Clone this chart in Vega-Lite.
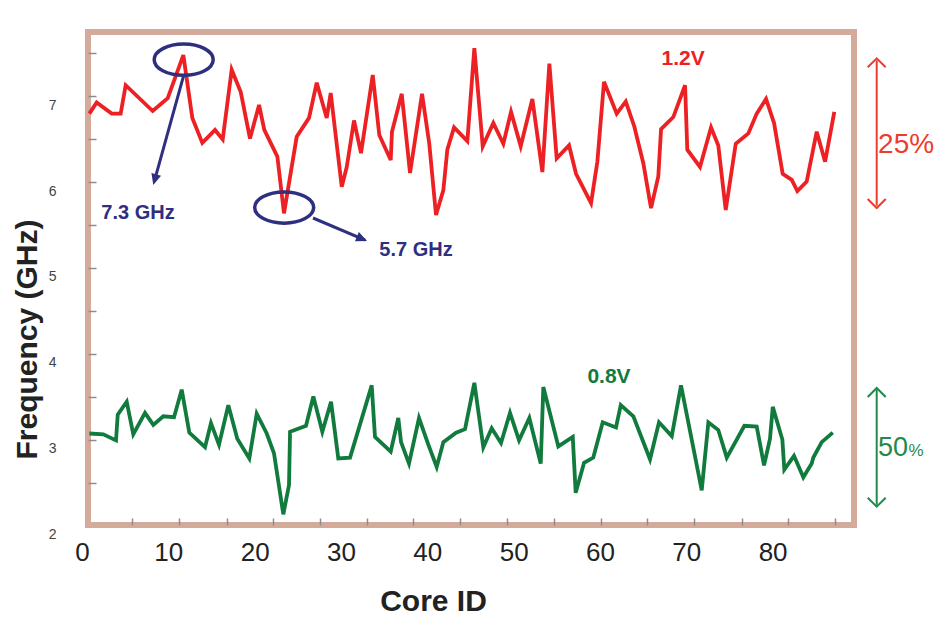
{
  "$schema": "https://vega.github.io/schema/vega-lite/v6.json",
  "autosize": {"type": "none"},
  "padding": {"left": 88, "top": 32, "right": 88, "bottom": 93},
  "width": 766,
  "height": 493,
  "background": "white",
  "config": {"view": {"stroke": "#d4ab9b", "strokeWidth": 6}, "font": "Liberation Sans"},
  "datasets": {
    "freq": [
      {"core": 0.85, "v": "1.2V", "ghz": 6.90}, {"core": 1.70, "v": "1.2V", "ghz": 7.03}, {"core": 3.44, "v": "1.2V", "ghz": 6.90}, {"core": 4.48, "v": "1.2V", "ghz": 6.90}, {"core": 5.06, "v": "1.2V", "ghz": 7.23}, {"core": 8.19, "v": "1.2V", "ghz": 6.93}, {"core": 9.93, "v": "1.2V", "ghz": 7.08}, {"core": 11.74, "v": "1.2V", "ghz": 7.58}, {"core": 12.78, "v": "1.2V", "ghz": 6.85}, {"core": 13.94, "v": "1.2V", "ghz": 6.56}, {"core": 15.41, "v": "1.2V", "ghz": 6.71}, {"core": 16.30, "v": "1.2V", "ghz": 6.60}, {"core": 17.34, "v": "1.2V", "ghz": 7.41}, {"core": 18.39, "v": "1.2V", "ghz": 7.15}, {"core": 19.46, "v": "1.2V", "ghz": 6.61}, {"core": 20.51, "v": "1.2V", "ghz": 7.00}, {"core": 21.12, "v": "1.2V", "ghz": 6.71}, {"core": 22.63, "v": "1.2V", "ghz": 6.40}, {"core": 23.40, "v": "1.2V", "ghz": 5.74}, {"core": 24.87, "v": "1.2V", "ghz": 6.63}, {"core": 26.30, "v": "1.2V", "ghz": 6.85}, {"core": 27.19, "v": "1.2V", "ghz": 7.26}, {"core": 28.35, "v": "1.2V", "ghz": 6.85}, {"core": 28.81, "v": "1.2V", "ghz": 7.14}, {"core": 30.09, "v": "1.2V", "ghz": 6.05}, {"core": 30.67, "v": "1.2V", "ghz": 6.28}, {"core": 31.51, "v": "1.2V", "ghz": 6.82}, {"core": 32.32, "v": "1.2V", "ghz": 6.44}, {"core": 33.68, "v": "1.2V", "ghz": 7.35}, {"core": 34.44, "v": "1.2V", "ghz": 6.65}, {"core": 35.76, "v": "1.2V", "ghz": 6.36}, {"core": 35.91, "v": "1.2V", "ghz": 6.69}, {"core": 37.04, "v": "1.2V", "ghz": 7.13}, {"core": 38.00, "v": "1.2V", "ghz": 6.21}, {"core": 39.39, "v": "1.2V", "ghz": 7.13}, {"core": 40.23, "v": "1.2V", "ghz": 6.55}, {"core": 41.01, "v": "1.2V", "ghz": 5.72}, {"core": 41.86, "v": "1.2V", "ghz": 6.01}, {"core": 42.32, "v": "1.2V", "ghz": 6.48}, {"core": 43.10, "v": "1.2V", "ghz": 6.74}, {"core": 44.64, "v": "1.2V", "ghz": 6.58}, {"core": 45.45, "v": "1.2V", "ghz": 7.66}, {"core": 46.42, "v": "1.2V", "ghz": 6.52}, {"core": 47.65, "v": "1.2V", "ghz": 6.79}, {"core": 48.81, "v": "1.2V", "ghz": 6.55}, {"core": 49.70, "v": "1.2V", "ghz": 6.92}, {"core": 50.82, "v": "1.2V", "ghz": 6.52}, {"core": 52.17, "v": "1.2V", "ghz": 7.07}, {"core": 53.33, "v": "1.2V", "ghz": 6.22}, {"core": 54.14, "v": "1.2V", "ghz": 7.48}, {"core": 54.99, "v": "1.2V", "ghz": 6.38}, {"core": 56.42, "v": "1.2V", "ghz": 6.53}, {"core": 57.23, "v": "1.2V", "ghz": 6.20}, {"core": 58.97, "v": "1.2V", "ghz": 5.86}, {"core": 59.70, "v": "1.2V", "ghz": 6.34}, {"core": 60.47, "v": "1.2V", "ghz": 7.27}, {"core": 61.94, "v": "1.2V", "ghz": 6.90}, {"core": 62.99, "v": "1.2V", "ghz": 7.04}, {"core": 63.98, "v": "1.2V", "ghz": 6.75}, {"core": 65.03, "v": "1.2V", "ghz": 6.32}, {"core": 65.92, "v": "1.2V", "ghz": 5.80}, {"core": 66.76, "v": "1.2V", "ghz": 6.17}, {"core": 67.08, "v": "1.2V", "ghz": 6.72}, {"core": 68.50, "v": "1.2V", "ghz": 6.86}, {"core": 69.86, "v": "1.2V", "ghz": 7.23}, {"core": 70.12, "v": "1.2V", "ghz": 6.48}, {"core": 71.59, "v": "1.2V", "ghz": 6.28}, {"core": 72.87, "v": "1.2V", "ghz": 6.74}, {"core": 73.71, "v": "1.2V", "ghz": 6.53}, {"core": 74.57, "v": "1.2V", "ghz": 5.78}, {"core": 75.73, "v": "1.2V", "ghz": 6.55}, {"core": 77.19, "v": "1.2V", "ghz": 6.67}, {"core": 78.16, "v": "1.2V", "ghz": 6.90}, {"core": 79.24, "v": "1.2V", "ghz": 7.07}, {"core": 80.17, "v": "1.2V", "ghz": 6.79}, {"core": 81.17, "v": "1.2V", "ghz": 6.20}, {"core": 82.22, "v": "1.2V", "ghz": 6.13}, {"core": 82.87, "v": "1.2V", "ghz": 6.00}, {"core": 83.95, "v": "1.2V", "ghz": 6.11}, {"core": 85.11, "v": "1.2V", "ghz": 6.69}, {"core": 86.08, "v": "1.2V", "ghz": 6.34}, {"core": 87.15, "v": "1.2V", "ghz": 6.92},
      {"core": 0.85, "v": "0.8V", "ghz": 3.18}, {"core": 2.47, "v": "0.8V", "ghz": 3.17}, {"core": 3.94, "v": "0.8V", "ghz": 3.10}, {"core": 4.14, "v": "0.8V", "ghz": 3.40}, {"core": 5.18, "v": "0.8V", "ghz": 3.55}, {"core": 5.94, "v": "0.8V", "ghz": 3.17}, {"core": 7.30, "v": "0.8V", "ghz": 3.42}, {"core": 8.26, "v": "0.8V", "ghz": 3.28}, {"core": 9.42, "v": "0.8V", "ghz": 3.38}, {"core": 10.66, "v": "0.8V", "ghz": 3.37}, {"core": 11.55, "v": "0.8V", "ghz": 3.69}, {"core": 12.43, "v": "0.8V", "ghz": 3.19}, {"core": 14.25, "v": "0.8V", "ghz": 3.02}, {"core": 14.94, "v": "0.8V", "ghz": 3.30}, {"core": 15.87, "v": "0.8V", "ghz": 3.05}, {"core": 16.95, "v": "0.8V", "ghz": 3.51}, {"core": 17.99, "v": "0.8V", "ghz": 3.12}, {"core": 19.38, "v": "0.8V", "ghz": 2.89}, {"core": 20.24, "v": "0.8V", "ghz": 3.41}, {"core": 21.40, "v": "0.8V", "ghz": 3.18}, {"core": 22.24, "v": "0.8V", "ghz": 2.95}, {"core": 23.32, "v": "0.8V", "ghz": 2.24}, {"core": 23.98, "v": "0.8V", "ghz": 2.58}, {"core": 24.10, "v": "0.8V", "ghz": 3.20}, {"core": 25.95, "v": "0.8V", "ghz": 3.27}, {"core": 26.80, "v": "0.8V", "ghz": 3.61}, {"core": 27.84, "v": "0.8V", "ghz": 3.20}, {"core": 28.85, "v": "0.8V", "ghz": 3.55}, {"core": 29.69, "v": "0.8V", "ghz": 2.89}, {"core": 31.05, "v": "0.8V", "ghz": 2.90}, {"core": 33.56, "v": "0.8V", "ghz": 3.74}, {"core": 33.94, "v": "0.8V", "ghz": 3.14}, {"core": 35.76, "v": "0.8V", "ghz": 2.97}, {"core": 36.64, "v": "0.8V", "ghz": 3.36}, {"core": 36.96, "v": "0.8V", "ghz": 3.08}, {"core": 37.88, "v": "0.8V", "ghz": 2.83}, {"core": 39.04, "v": "0.8V", "ghz": 3.36}, {"core": 40.12, "v": "0.8V", "ghz": 3.05}, {"core": 41.09, "v": "0.8V", "ghz": 2.79}, {"core": 41.86, "v": "0.8V", "ghz": 3.08}, {"core": 43.33, "v": "0.8V", "ghz": 3.19}, {"core": 44.37, "v": "0.8V", "ghz": 3.23}, {"core": 45.45, "v": "0.8V", "ghz": 3.77}, {"core": 46.49, "v": "0.8V", "ghz": 3.02}, {"core": 47.46, "v": "0.8V", "ghz": 3.24}, {"core": 48.54, "v": "0.8V", "ghz": 3.07}, {"core": 49.58, "v": "0.8V", "ghz": 3.42}, {"core": 50.63, "v": "0.8V", "ghz": 3.10}, {"core": 51.82, "v": "0.8V", "ghz": 3.36}, {"core": 53.14, "v": "0.8V", "ghz": 2.83}, {"core": 53.44, "v": "0.8V", "ghz": 3.72}, {"core": 55.18, "v": "0.8V", "ghz": 3.03}, {"core": 56.85, "v": "0.8V", "ghz": 3.14}, {"core": 57.19, "v": "0.8V", "ghz": 2.49}, {"core": 58.16, "v": "0.8V", "ghz": 2.84}, {"core": 59.23, "v": "0.8V", "ghz": 2.90}, {"core": 60.32, "v": "0.8V", "ghz": 3.31}, {"core": 61.86, "v": "0.8V", "ghz": 3.25}, {"core": 62.41, "v": "0.8V", "ghz": 3.51}, {"core": 63.87, "v": "0.8V", "ghz": 3.38}, {"core": 65.80, "v": "0.8V", "ghz": 2.88}, {"core": 66.84, "v": "0.8V", "ghz": 3.31}, {"core": 68.32, "v": "0.8V", "ghz": 3.15}, {"core": 69.39, "v": "0.8V", "ghz": 3.74}, {"core": 71.79, "v": "0.8V", "ghz": 2.52}, {"core": 72.56, "v": "0.8V", "ghz": 3.31}, {"core": 73.71, "v": "0.8V", "ghz": 3.22}, {"core": 74.69, "v": "0.8V", "ghz": 2.90}, {"core": 76.73, "v": "0.8V", "ghz": 3.27}, {"core": 78.16, "v": "0.8V", "ghz": 3.26}, {"core": 79.01, "v": "0.8V", "ghz": 2.81}, {"core": 79.70, "v": "0.8V", "ghz": 3.12}, {"core": 80.02, "v": "0.8V", "ghz": 3.49}, {"core": 81.13, "v": "0.8V", "ghz": 3.11}, {"core": 81.36, "v": "0.8V", "ghz": 2.76}, {"core": 82.48, "v": "0.8V", "ghz": 2.92}, {"core": 83.56, "v": "0.8V", "ghz": 2.67}, {"core": 84.53, "v": "0.8V", "ghz": 2.83}, {"core": 84.72, "v": "0.8V", "ghz": 2.90}, {"core": 85.69, "v": "0.8V", "ghz": 3.08}, {"core": 86.97, "v": "0.8V", "ghz": 3.19}
    ]
  },
  "resolve": {"axis": {"x": "independent", "y": "independent"}},
  "layer": [
    {
      "data": {"name": "freq"},
      "transform": [{"filter": "datum.v == '1.2V'"}],
      "mark": {"type": "line", "color": "#ed2024", "strokeWidth": 3.8, "strokeJoin": "miter"},
      "encoding": {
        "x": {"field": "core", "type": "quantitative", "scale": {"domain": [0.695, 89.43], "nice": false, "zero": false},
          "axis": {"orient": "bottom", "values": [0.7, 10, 20, 30, 40, 50, 60, 70, 80], "labelExpr": "datum.value < 1 ? '0' : '' + datum.value",
            "labelOffset": {"condition": {"test": "datum.value < 1", "value": -6}, "value": 0}, "labelFlush": false,
            "ticks": false, "domain": false, "grid": false, "labelFontSize": 26, "labelColor": "#222", "labelPadding": 14,
            "title": "Core ID", "titleFontSize": 30, "titleFontWeight": "bold", "titleColor": "#222", "titleX": 345, "titleY": 85, "titleAlign": "center", "titleBaseline": "alphabetic"}},
        "y": {"field": "ghz", "type": "quantitative", "scale": {"domain": [2.116, 7.849], "nice": false, "zero": false},
          "axis": {"orient": "left", "values": [2.12, 3, 4, 5, 6, 7], "labelExpr": "'' + round(datum.value)",
            "labelOffset": {"condition": {"test": "datum.value < 2.5", "value": 10}, "value": 0}, "labelFlush": false,
            "ticks": false, "domain": false, "grid": false, "labelFontSize": 14, "labelColor": "#444", "labelPadding": 32,
            "title": "Frequency (GHz)", "titleFontSize": 30, "titleFontWeight": "bold", "titleColor": "#222", "titleAngle": -90, "titleX": -52, "titleY": 307, "titleAlign": "center", "titleBaseline": "alphabetic"}}
      }
    },
    {
      "data": {"name": "freq"},
      "transform": [{"filter": "datum.v == '0.8V'"}],
      "mark": {"type": "line", "color": "#117a3d", "strokeWidth": 3.8, "strokeJoin": "miter"},
      "encoding": {
        "x": {"field": "core", "type": "quantitative", "scale": {"domain": [0.695, 89.43], "nice": false, "zero": false},
          "axis": {"orient": "bottom", "values": [5.84, 11.27, 16.8, 22.15, 27.6, 33.0, 38.4, 43.8, 49.2, 54.7, 60.1, 65.4, 70.9, 76.4, 81.8, 87.2],
            "labels": false, "domain": false, "grid": false, "ticks": true, "tickSize": 7, "offset": -7, "tickColor": "#8c8c8c", "tickWidth": 1.5, "title": null}},
        "y": {"field": "ghz", "type": "quantitative", "scale": {"domain": [2.116, 7.849], "nice": false, "zero": false},
          "axis": {"orient": "left", "values": [2.6, 3.1, 3.6, 4.1, 4.6, 5.1, 5.6, 6.1, 6.6, 7.1, 7.6],
            "labels": false, "domain": false, "grid": false, "ticks": true, "tickSize": 8, "offset": -8, "tickColor": "#8c8c8c", "tickWidth": 1.5, "title": null}}
      }
    },
    {
      "data": {"values": [{"x": 11.78, "y": 7.527}, {"x": 23.42, "y": 5.808}]},
      "mark": {"type": "point", "shape": "M -1 0 A 1 0.53 0 1 0 1 0 A 1 0.53 0 1 0 -1 0", "size": 3481, "filled": false, "color": "#2e2f7f", "strokeWidth": 3.5, "opacity": 1},
      "encoding": {
        "x": {"field": "x", "type": "quantitative", "scale": {"domain": [0.695, 89.43], "nice": false, "zero": false}, "axis": null},
        "y": {"field": "y", "type": "quantitative", "scale": {"domain": [2.116, 7.849], "nice": false, "zero": false}, "axis": null}
      }
    },
    {
      "data": {"values": [{"x": 11.74, "y": 7.329, "x2": 8.4, "y2": 6.12}, {"x": 26.76, "y": 5.686, "x2": 32.8, "y2": 5.43}]},
      "mark": {"type": "rule", "color": "#2e2f7f", "strokeWidth": 3},
      "encoding": {
        "x": {"field": "x", "type": "quantitative", "scale": {"domain": [0.695, 89.43], "nice": false, "zero": false}, "axis": null},
        "y": {"field": "y", "type": "quantitative", "scale": {"domain": [2.116, 7.849], "nice": false, "zero": false}, "axis": null},
        "x2": {"field": "x2"},
        "y2": {"field": "y2"}
      }
    },
    {
      "data": {"values": [{"x": 8.26, "y": 6.07, "a": 195.5}, {"x": 33.02, "y": 5.419, "a": 113.1}]},
      "mark": {"type": "point", "shape": "M 0 0 L -0.5 1.1 L 0.5 1.1 Z", "size": 400, "filled": true, "color": "#2e2f7f", "opacity": 1},
      "encoding": {
        "x": {"field": "x", "type": "quantitative", "scale": {"domain": [0.695, 89.43], "nice": false, "zero": false}, "axis": null},
        "y": {"field": "y", "type": "quantitative", "scale": {"domain": [2.116, 7.849], "nice": false, "zero": false}, "axis": null},
        "angle": {"field": "a", "type": "quantitative", "scale": null}
      }
    },
    {
      "data": {"values": [{"x": 6.49, "y": 5.741, "t": "7.3 GHz"}, {"x": 38.69, "y": 5.314, "t": "5.7 GHz"}]},
      "mark": {"type": "text", "color": "#2e2f7f", "fontSize": 20, "fontWeight": "bold", "align": "center", "baseline": "middle"},
      "encoding": {
        "x": {"field": "x", "type": "quantitative", "scale": {"domain": [0.695, 89.43], "nice": false, "zero": false}, "axis": null},
        "y": {"field": "y", "type": "quantitative", "scale": {"domain": [2.116, 7.849], "nice": false, "zero": false}, "axis": null},
        "text": {"field": "t"}
      }
    },
    {
      "data": {"values": [{"x": 69.63, "y": 7.538, "t": "1.2V"}]},
      "mark": {"type": "text", "color": "#ed2024", "fontSize": 21, "fontWeight": "bold", "align": "center", "baseline": "middle"},
      "encoding": {
        "x": {"field": "x", "type": "quantitative", "scale": {"domain": [0.695, 89.43], "nice": false, "zero": false}, "axis": null},
        "y": {"field": "y", "type": "quantitative", "scale": {"domain": [2.116, 7.849], "nice": false, "zero": false}, "axis": null},
        "text": {"field": "t"}
      }
    },
    {
      "data": {"values": [{"x": 61.05, "y": 3.837, "t": "0.8V"}]},
      "mark": {"type": "text", "color": "#117a3d", "fontSize": 21, "fontWeight": "bold", "align": "center", "baseline": "middle"},
      "encoding": {
        "x": {"field": "x", "type": "quantitative", "scale": {"domain": [0.695, 89.43], "nice": false, "zero": false}, "axis": null},
        "y": {"field": "y", "type": "quantitative", "scale": {"domain": [2.116, 7.849], "nice": false, "zero": false}, "axis": null},
        "text": {"field": "t"}
      }
    },
    {
      "data": {"values": [{"x": 92.06, "y": 7.52, "y2": 5.83}]},
      "mark": {"type": "rule", "color": "#ef3b2c", "strokeWidth": 2},
      "encoding": {
        "x": {"field": "x", "type": "quantitative", "scale": {"domain": [0.695, 89.43], "nice": false, "zero": false}, "axis": null},
        "y": {"field": "y", "type": "quantitative", "scale": {"domain": [2.116, 7.849], "nice": false, "zero": false}, "axis": null},
        "y2": {"field": "y2"}
      }
    },
    {
      "data": {"values": [{"x": 92.06, "y": 7.543, "a": 0}, {"x": 92.06, "y": 5.802, "a": 180}]},
      "mark": {"type": "point", "shape": "M -1 1 L 0 0 L 1 1", "size": 324, "filled": false, "color": "#ef3b2c", "strokeWidth": 2, "opacity": 1},
      "encoding": {
        "x": {"field": "x", "type": "quantitative", "scale": {"domain": [0.695, 89.43], "nice": false, "zero": false}, "axis": null},
        "y": {"field": "y", "type": "quantitative", "scale": {"domain": [2.116, 7.849], "nice": false, "zero": false}, "axis": null},
        "angle": {"field": "a", "type": "quantitative", "scale": null}
      }
    },
    {
      "data": {"values": [{"x": 92.06, "y": 3.69, "y2": 2.35}]},
      "mark": {"type": "rule", "color": "#1f8a4c", "strokeWidth": 2},
      "encoding": {
        "x": {"field": "x", "type": "quantitative", "scale": {"domain": [0.695, 89.43], "nice": false, "zero": false}, "axis": null},
        "y": {"field": "y", "type": "quantitative", "scale": {"domain": [2.116, 7.849], "nice": false, "zero": false}, "axis": null},
        "y2": {"field": "y2"}
      }
    },
    {
      "data": {"values": [{"x": 92.06, "y": 3.709, "a": 0}, {"x": 92.06, "y": 2.329, "a": 180}]},
      "mark": {"type": "point", "shape": "M -1 1 L 0 0 L 1 1", "size": 324, "filled": false, "color": "#1f8a4c", "strokeWidth": 2, "opacity": 1},
      "encoding": {
        "x": {"field": "x", "type": "quantitative", "scale": {"domain": [0.695, 89.43], "nice": false, "zero": false}, "axis": null},
        "y": {"field": "y", "type": "quantitative", "scale": {"domain": [2.116, 7.849], "nice": false, "zero": false}, "axis": null},
        "angle": {"field": "a", "type": "quantitative", "scale": null}
      }
    },
    {
      "data": {"values": [{"x": 92.22, "y": 6.44, "t": "25%"}]},
      "mark": {"type": "text", "color": "#ef3b2c", "fontSize": 28, "align": "left", "baseline": "alphabetic"},
      "encoding": {
        "x": {"field": "x", "type": "quantitative", "scale": {"domain": [0.695, 89.43], "nice": false, "zero": false}, "axis": null},
        "y": {"field": "y", "type": "quantitative", "scale": {"domain": [2.116, 7.849], "nice": false, "zero": false}, "axis": null},
        "text": {"field": "t"}
      }
    },
    {
      "data": {"values": [{"x": 92.22, "y": 2.92, "t": "50"}]},
      "mark": {"type": "text", "color": "#1f8a4c", "fontSize": 27, "align": "left", "baseline": "alphabetic"},
      "encoding": {
        "x": {"field": "x", "type": "quantitative", "scale": {"domain": [0.695, 89.43], "nice": false, "zero": false}, "axis": null},
        "y": {"field": "y", "type": "quantitative", "scale": {"domain": [2.116, 7.849], "nice": false, "zero": false}, "axis": null},
        "text": {"field": "t"}
      }
    },
    {
      "data": {"values": [{"x": 95.75, "y": 2.92, "t": "%"}]},
      "mark": {"type": "text", "color": "#1f8a4c", "fontSize": 17, "align": "left", "baseline": "alphabetic"},
      "encoding": {
        "x": {"field": "x", "type": "quantitative", "scale": {"domain": [0.695, 89.43], "nice": false, "zero": false}, "axis": null},
        "y": {"field": "y", "type": "quantitative", "scale": {"domain": [2.116, 7.849], "nice": false, "zero": false}, "axis": null},
        "text": {"field": "t"}
      }
    }
  ]
}
